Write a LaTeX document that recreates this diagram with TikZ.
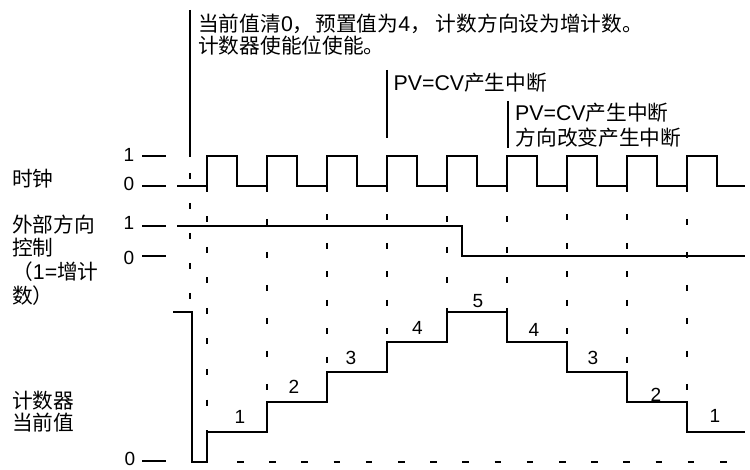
\documentclass[tikz,border=0pt]{standalone}
\usepackage{fontspec}
\setmainfont{Liberation Sans}[Scale=1.03]
\newfontfamily\cjk{Noto Sans CJK SC}
\begin{document}
\begin{tikzpicture}[x=1pt,y=-1pt,
  trace/.style={line width=1.2pt, line join=miter},
  vgrid/.style={line width=1.2pt, dash pattern=on 6pt off #1},
  tickmark/.style={line width=1.3pt},
  anno/.style={line width=1.8pt},
  lbl/.style={anchor=base west, inner sep=0pt, font=\fontsize{20.7}{24}\selectfont},
  num/.style={anchor=base, inner sep=0pt, font=\fontsize{18.5}{22}\selectfont}]
\useasboundingbox (0,0) rectangle (750,470);

% ---------- left labels ----------
\node[lbl] (clk)  at (12,186.8) {\cjk 时钟};
\node[lbl] (dir1) at (12,232.8) {\cjk 外部方向};
\node[lbl] (dir2) at (12,255.3) {\cjk 控制};
\node[lbl] (dir3) at (12,279.8) {{\cjk （}1={\cjk 增计}};
\node[lbl] (dir4) at (12,303.8) {\cjk 数）};
\node[lbl] (cnt1) at (12,408.8) {\cjk 计数器};
\node[lbl] (cnt2) at (12,430.3) {\cjk 当前值};

% ---------- level digits and ticks ----------
\node[num] (c1) at (129,162) {1};
\node[num] (c0) at (129,190.5) {0};
\node[num] (d1) at (129,230) {1};
\node[num] (d0) at (129,264.5) {0};
\node[num] (v0) at (130,465.5) {0};
\draw[tickmark] (142,156) -- (166,156);
\draw[tickmark] (142,186) -- (166,186);
\draw[tickmark] (142,226) -- (166,226);
\draw[tickmark] (142,256) -- (166,256);
\draw[tickmark] (142,461) -- (166,461);

% ---------- annotations ----------
\draw[anno] (190,10) -- (190,157);
\node[lbl] (a1) at (198,31.3) {{\cjk 当前值清}0{\cjk ，}\hspace{2pt}{\cjk 预置值为}4{\cjk ，}\hspace{5pt}{\cjk 计数方向设为增计数。}};
\node[lbl] (a2) at (198,53.8) {\cjk 计数器使能位使能。};
\draw[anno] (387,70) -- (387,138);
\node[lbl] (b1) at (393.5,90.8) {PV=CV{\cjk 产生中断}};
\draw[anno] (508,101) -- (508,148);
\node[lbl] (e1) at (515,120.3) {PV=CV{\cjk 产生中断}};
\node[lbl] (e2) at (515.5,145.3) {\cjk 方向改变产生中断};

% ---------- dashed guide lines ----------
\draw[vgrid=24pt] (190,173) -- (190,300);
\draw[vgrid=24.5pt] (207,186) -- (207,432);
\draw[vgrid=27pt]   (267,186) -- (267,402);
\draw[vgrid=22.5pt] (327,186) -- (327,372);
\draw[vgrid=22.5pt] (387,186) -- (387,342);
\draw[vgrid=24.5pt] (447,186) -- (447,312);
\draw[vgrid=24.5pt] (507,186) -- (507,312);
\draw[vgrid=22.5pt] (567,186) -- (567,342);
\draw[vgrid=22.5pt] (627,186) -- (627,372);
\draw[vgrid=27pt]   (687,186) -- (687,402);
\draw[line width=1.2pt, dash pattern=on 6.5pt off 25.7pt] (237,462) -- (727,462);

% ---------- clock ----------
\draw[trace] (177,186)
  \foreach \i in {0,...,8} {
    -- ({207+60*\i},186) -- ({207+60*\i},156) -- ({237+60*\i},156) -- ({237+60*\i},186)
  } -- (745,186);

% ---------- direction ----------
\draw[trace] (177,226) -- (462,226) -- (462,256) -- (745,256);

% ---------- counter ----------
\draw[trace] (173,312) -- (192,312) -- (192,462) -- (207,462) -- (207,432)
  -- (267,432) -- (267,402) -- (327,402) -- (327,372) -- (387,372) -- (387,342)
  -- (447,342) -- (447,312) -- (507,312) -- (507,342) -- (567,342) -- (567,372)
  -- (627,372) -- (627,402) -- (687,402) -- (687,432) -- (745,432);

\node[num] (k1) at (240,423) {1};
\node[num] (k2) at (294,393) {2};
\node[num] (k3) at (351,364.5) {3};
\node[num] (k4) at (417.5,335) {4};
\node[num] (k5) at (478,307.5) {5};
\node[num] (k6) at (534,337) {4};
\node[num] (k7) at (593,364.5) {3};
\node[num] (k8) at (656,401) {2};
\node[num] (k9) at (715,422) {1};
\end{tikzpicture}
\end{document}
